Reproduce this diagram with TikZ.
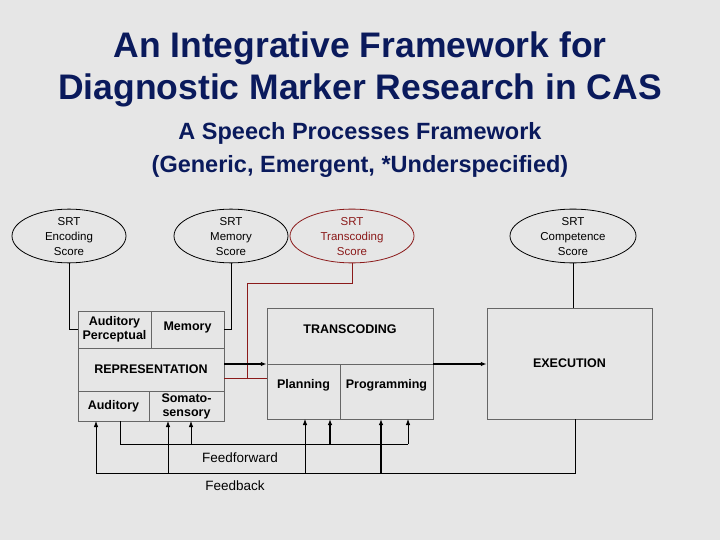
\documentclass[tikz,border=0pt]{standalone}
\usepackage{fontspec}
\setmainfont{Liberation Sans}
\usetikzlibrary{shapes.geometric,arrows.meta}
\definecolor{bg}{HTML}{E6E6E6}
\definecolor{tblue}{HTML}{0A1A5C}
\definecolor{dred}{HTML}{8B1A1A}
\begin{document}
\begin{tikzpicture}[x=1pt,y=-1pt,
 ell/.style={ellipse,draw,thick,minimum width=114pt,minimum height=40pt,inner sep=0pt,align=center,font=\fontsize{11.5}{15}\selectfont,text depth=0pt},
 bx/.style={draw=gray!80!black,font=\bfseries\fontsize{12.5}{14}\selectfont,align=center,inner sep=0pt},
 lb/.style={font=\bfseries\fontsize{12.5}{14}\selectfont,align=center,inner sep=0pt},
 ln/.style={line width=0.8pt},
 ar/.style={line width=0.8pt,-{Latex[length=6pt,width=4.5pt]}},
 ]
\fill[bg] (0,0) rectangle (720,540);
\node[font=\bfseries\fontsize{35.5}{42}\selectfont,text=tblue,align=center] (t) at (360,69) {An Integrative Framework for\\Diagnostic Marker Research in CAS};
\node[font=\bfseries\fontsize{23.5}{33}\selectfont,text=tblue,align=center] (st) at (360,150) {A Speech Processes Framework\\(Generic, Emergent, *Underspecified)};
\node[ell] (enc) at (69,236) {SRT\\Encoding\\Score};
\node[ell] (mem) at (231,236) {SRT\\Memory\\Score};
\node[ell,draw=dred,text=dred,minimum width=124pt] (trs) at (352,236) {SRT\\Transcoding\\Score};
\node[ell,minimum width=126pt] (com) at (573,236) {SRT\\Competence\\Score};
% representation
\draw[draw=gray!80!black] (78,311) rectangle (224,421);
\draw[gray!80!black] (78,348) -- (224,348) (78,391) -- (224,391) (151,311) -- (151,348) (149,391) -- (149,421);
\node[lb] (ap) at (114.5,329.5) {Auditory\\Perceptual};
\node[lb] (me) at (187.5,327.5) {Memory};
\node[lb] (rep) at (151,369.5) {REPRESENTATION};
\node[lb] (au) at (113.5,406) {Auditory};
\node[lb] (so) at (186.5,406) {Somato-\\sensory};
\coordinate (repE) at (224,364);
\coordinate (repE2) at (224,378);
% transcoding
\node[bx,minimum width=166pt,minimum height=111pt] (tr) at (350,363.5) {};
\draw[gray!80!black] (267,364) -- (433,364) (340,364) -- (340,419);
\node[lb] at (350,329) {TRANSCODING};
\node[lb] (pl) at (303.5,385) {Planning};
\node[lb] (pg) at (386.5,385) {Programming};
% execution
\node[bx,minimum width=165pt,minimum height=111pt] (ex) at (569.5,363.5) {EXECUTION};
% connectors
\draw[ln] (enc.south) -- (69,329) -- (78,329);
\draw[ln] (mem.south) -- (231,329) -- (224,329);
\draw[ln] (com.south) -- (ex.north -| com.south);
\draw[dred,ln] (trs.south) -- (352,283) -- (247,283) -- (247,378);
\draw[dred,ln] (repE2) -- (tr.west |- repE2);
\draw[ar,line width=1.2pt] (repE) -- (tr.west |- repE);
\draw[ar,line width=1.2pt] (tr.east |- 0,364) -- (ex.west |- 0,364);
% feedforward
\draw[ln] (120,421) -- (120,444) -- (408,444);
\draw[ar] (191,444) -- (191,421);
\draw[ar,line width=1.4pt] (330,444) -- (330,419);
\draw[ar] (408,444) -- (408,419);
\node[font=\fontsize{13.5}{16}\selectfont] (ff) at (240,458) {Feedforward};
% feedback
\draw[ln] (ex.south -| 575,0) -- (575,473) -- (96,473);
\draw[ar] (96,473) -- (96,421);
\draw[ar] (168,473) -- (168,421);
\draw[ar] (305,473) -- (305,419);
\draw[ar,line width=1.4pt] (381,473) -- (381,419);
\node[font=\fontsize{13.5}{16}\selectfont] (fb) at (235,486) {Feedback};
\end{tikzpicture}
\end{document}
